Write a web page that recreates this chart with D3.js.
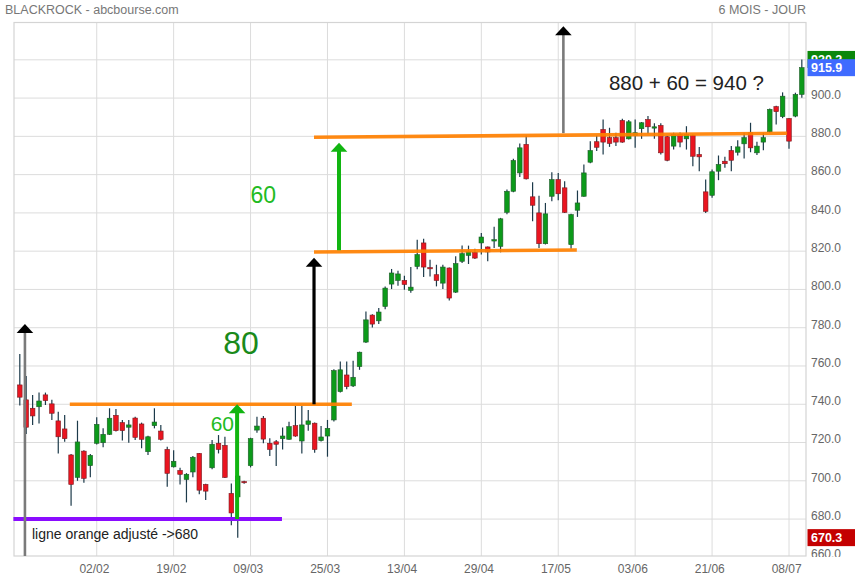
<!DOCTYPE html>
<html><head><meta charset="utf-8">
<script src="https://cdn.jsdelivr.net/npm/d3@7"></script>
<style>
html,body{margin:0;padding:0;background:#fff;}
svg{display:block;font-family:"Liberation Sans",Arial,sans-serif;}
</style></head>
<body><svg id="chart" width="855" height="580"></svg>
<script>
// ---- data (daily candles, index 0 = first session shown) ----
const opens  = [750.1,742.3,737.9,738.7,744.9,740.2,731.3,727.1,713.5,701.8,715.5,707.9,719.6,719.9,724.3,734.2,730.4,728.0,732.8,729.7,715.2,728.8,726.0,716.4,707.3,705.4,700.7,704.6,714.3,698.1,706.8,719.6,718.5,693.4,691.6,699.6,707.9,726.5,732.7,719.6,720.4,722.0,721.7,728.8,720.8,729.5,730.1,721.0,723.4,731.8,746.6,755.3,749.6,759.7,772.5,786.6,783.6,791.1,802.8,804.7,804.7,799.5,812.0,824.3,811.4,807.7,803.3,811.2,798.6,814.7,817.8,819.4,824.3,822.2,825.3,822.5,840.3,851.3,860.9,875.8,848.4,840.0,823.9,848.7,857.4,853.1,823.4,841.4,848.7,866.5,877.2,883.6,879.3,879.3,888.3,878.7,880.5,884.0,888.8,884.3,885.7,879.8,874.9,881.0,878.7,880.5,870.5,851.0,849.2,861.8,867.0,872.6,871.7,876.1,881.9,871.4,877.0,882.4,895.5,890.3,889.3,890.6,901.9];
const highs  = [766.3,754.8,744.9,746.1,746.1,742.3,736.1,734.4,714.0,731.4,716.0,714.0,733.2,727.4,737.9,737.5,731.8,731.8,733.5,730.4,723.5,737.9,729.2,717.8,716.0,706.8,704.0,712.9,714.5,698.5,721.3,723.9,723.0,698.6,706.0,700.0,722.5,733.5,733.9,722.2,721.3,727.8,730.9,739.1,739.1,737.0,730.5,728.6,731.8,758.3,762.3,762.3,762.8,767.5,788.5,787.0,790.3,801.6,810.7,809.8,807.2,811.7,826.0,826.5,815.5,812.9,812.9,811.5,817.3,822.9,822.9,821.2,829.5,822.5,832.7,837.4,852.2,868.3,876.3,880.5,856.0,849.0,845.2,861.3,860.9,856.5,839.5,851.7,865.3,877.5,880.5,888.8,884.5,881.9,889.2,888.5,888.8,887.5,890.6,886.8,886.8,880.3,881.9,882.0,885.3,881.0,874.5,857.4,862.7,870.0,869.3,874.9,878.0,881.9,887.1,877.2,881.9,894.5,896.0,903.0,889.5,902.8,920.2];
const lows   = [739.3,724.5,729.2,730.0,739.6,731.8,714.3,720.4,686.9,700.0,699.0,701.8,719.0,717.5,724.0,725.7,721.0,719.9,721.3,717.0,713.5,727.4,721.0,696.9,707.0,698.1,688.7,701.8,693.0,689.9,706.0,714.3,701.5,676.8,670.3,698.5,707.0,725.1,719.6,712.9,707.7,716.4,721.5,723.0,714.3,726.2,714.7,720.5,712.6,731.0,746.1,747.9,749.0,758.0,772.0,780.1,781.9,789.7,800.2,801.9,799.9,798.3,810.5,806.5,806.8,801.6,800.2,794.2,798.1,813.8,813.3,815.9,818.2,814.7,821.7,819.4,839.3,850.8,858.8,857.5,835.6,821.7,823.5,846.1,846.6,840.0,821.2,837.9,848.5,866.0,872.3,870.5,874.5,874.9,876.6,878.4,874.0,878.7,881.4,878.7,870.5,867.0,873.1,874.3,873.1,864.4,861.8,840.0,847.9,857.1,863.6,861.8,870.0,868.4,871.7,870.2,872.8,881.9,886.2,889.5,873.5,890.0,900.2];
const closes = [743.7,728.0,733.9,741.7,741.9,735.3,723.0,722.0,698.1,720.3,701.3,713.3,729.5,724.3,732.7,726.2,726.2,729.2,722.7,721.7,723.0,730.7,721.7,703.9,710.2,703.4,703.4,712.3,695.1,694.6,719.1,716.4,701.8,683.2,702.5,699.0,722.0,728.6,721.8,716.4,719.1,723.4,728.3,723.4,729.2,731.3,716.4,722.9,727.4,757.6,758.0,749.2,754.1,767.2,784.1,781.9,788.2,800.7,808.6,808.1,802.6,801.2,818.2,811.7,811.0,804.7,811.7,795.5,813.5,818.7,819.9,816.4,827.4,819.6,826.0,836.9,851.3,867.4,874.0,857.8,844.0,823.9,839.5,857.4,850.0,840.3,839.1,845.2,860.9,872.6,874.3,877.0,876.3,877.0,877.0,887.6,881.9,887.1,885.0,885.0,871.4,867.5,881.0,877.0,881.0,869.6,869.3,840.8,861.5,865.3,865.7,867.5,874.5,879.3,874.0,874.9,879.3,894.1,892.9,901.0,877.5,901.9,915.9];

const xTickIndex  = [12,24,36,48,60,72,84,96,108,120];
const xTickLabels = ["02/02","19/02","09/03","25/03","13/04","29/04","17/05","03/06","21/06","08/07"];
const yTickValues = [660,680,700,720,740,760,780,800,820,840,860,880,900,920];

const title = "BLACKROCK - abcbourse.com";
const period = "6 MOIS - JOUR";
const lastHigh = 920.2, lastClose = 915.9, periodLow = 670.3;

// annotations in data space: [index, price]
const orangeLines = [
  [[7.8,740],[51.8,740]],
  [[45.9,819.6],[86.9,820.6]],
  [[45.9,879.5],[119.7,881.6]]
];
const purpleLine = [[-1,680],[40.9,680]];
const arrows = [
  {x:0.8,  from:660.7, to:782.0, kind:"grey"},
  {x:45.9, from:740.0, to:816.6, kind:"black"},
  {x:84.8, from:881.7, to:937.6, kind:"grey"},
  {x:33.9, from:680.0, to:740.0, kind:"green"},
  {x:49.8, from:820.5, to:876.7, kind:"green"}
];
const notes = [
  {x:38.0, p:845.0, text:"60", size:23, color:"#22bb22", anchor:"middle"},
  {x:34.5, p:766.3, text:"80", size:32, color:"#1a8a1a", anchor:"middle"},
  {x:31.6, p:726.0, text:"60", size:21, color:"#22bb22", anchor:"middle"},
  {x:91.9, p:904.2, text:"880 + 60 = 940 ?", size:20.5, color:"#222", anchor:"start"},
  {x:1.9,  p:669.6, text:"ligne orange adjusté ->680", size:14, color:"#222", anchor:"start"}
];

// ---- layout ----
const L = 14, R = 806, T = 22.5, B = 556;
const svg = d3.select("#chart");
const x = d3.scaleLinear().domain([0,120]).range([19.8,789]);
const y = d3.scaleLinear().domain([660.7,939.5]).range([B,T]);
const data = opens.map((o,i)=>({i,o,h:highs[i],l:lows[i],c:closes[i]}));

svg.append("text").attr("x",5).attr("y",14).attr("font-size",12.5).attr("fill","#777").text(title);
svg.append("text").attr("x",806).attr("y",14).attr("font-size",12.5).attr("fill","#777").attr("text-anchor","end").text(period);

// grid
const grid = svg.append("g");
grid.selectAll("line.h").data(yTickValues.filter(v=>y(v)>T && y(v)<B)).join("line")
  .attr("x1",L).attr("x2",R).attr("y1",d=>y(d)).attr("y2",d=>y(d))
  .attr("stroke","#dcdcdc").attr("stroke-width",1);
grid.selectAll("line.v").data(xTickIndex).join("line")
  .attr("x1",d=>x(d)).attr("x2",d=>x(d)).attr("y1",T).attr("y2",B)
  .attr("stroke","#dcdcdc").attr("stroke-width",1);
svg.append("rect").attr("x",L).attr("y",T).attr("width",R-L).attr("height",B-T)
  .attr("fill","none").attr("stroke","#d4d4d4").attr("stroke-width",1.2);

// axes (clip in the group's local coordinates)
svg.append("clipPath").attr("id","axclip").append("rect").attr("x",-10).attr("y",-20).attr("width",70).attr("height",580.5);
const yAxis = d3.axisRight(y).tickValues(yTickValues).tickFormat(d3.format(".1f")).tickSize(0).tickPadding(0);
const ga = svg.append("g").attr("transform","translate(811,-3.5)").attr("clip-path","url(#axclip)").call(yAxis);
ga.select(".domain").remove();
ga.selectAll("text").attr("font-size",12).attr("fill","#666").attr("font-family","Liberation Sans, Arial, sans-serif");

const xAxis = d3.axisBottom(x).tickValues(xTickIndex).tickFormat((d,i)=>xTickLabels[i]).tickSize(0).tickPadding(0);
const gx = svg.append("g").attr("transform","translate(-2.8,"+(B+8)+")").call(xAxis);
gx.select(".domain").remove();
gx.selectAll("text").attr("font-size",12).attr("fill","#666").attr("font-family","Liberation Sans, Arial, sans-serif");

// candles
const bw = 4.6;
const cg = svg.append("g");
cg.selectAll("line.w").data(data).join("line")
  .attr("x1",d=>x(d.i)).attr("x2",d=>x(d.i)).attr("y1",d=>y(d.h)).attr("y2",d=>y(d.l))
  .attr("stroke","#1c3a4a").attr("stroke-width",1.2);
cg.selectAll("rect").data(data).join("rect")
  .attr("x",d=>x(d.i)-bw/2).attr("width",bw)
  .attr("y",d=>y(Math.max(d.o,d.c)))
  .attr("height",d=>Math.max(1.2,Math.abs(y(d.o)-y(d.c))))
  .attr("fill",d=>d.c>=d.o?"#0c9a1a":"#ea1520")
  .attr("stroke",d=>d.c>=d.o?"#1f5a2a":"#7a1a20").attr("stroke-width",0.6);

// annotations
const line = d3.line().x(d=>x(d[0])).y(d=>y(d[1]));
svg.append("path").datum(purpleLine).attr("d",line).attr("stroke","#8a0cff").attr("stroke-width",4).attr("fill","none");
svg.selectAll("path.or").data(orangeLines).join("path").attr("class","or")
  .attr("d",line).attr("stroke","#ff8000").attr("stroke-width",3.6).attr("fill","none").attr("stroke-opacity",0.92);

const style = {grey:{line:"#7a7a7a",head:"#000",w:2.6}, black:{line:"#000",head:"#000",w:3.2}, green:{line:"#11b511",head:"#11b511",w:4}};
const ag = svg.append("g");
arrows.forEach(a=>{
  const s = style[a.kind], cx = x(a.x), yt = y(a.to), hh = 9, hw = 8.3;
  ag.append("line").attr("x1",cx).attr("x2",cx).attr("y1",y(a.from)).attr("y2",yt+hh-1)
    .attr("stroke",s.line).attr("stroke-width",s.w);
  ag.append("path").attr("d",`M${cx},${yt}L${cx+hw},${yt+hh}L${cx-hw},${yt+hh}Z`).attr("fill",s.head);
});

svg.selectAll("text.note").data(notes).join("text").attr("class","note")
  .attr("x",d=>x(d.x)).attr("y",d=>y(d.p)).attr("font-size",d=>d.size)
  .attr("fill",d=>d.color).attr("text-anchor",d=>d.anchor).text(d=>d.text);

// value boxes on right axis (last high / last close / period low)
const boxes = [
  {v:lastHigh, fill:"#0b870b"},
  {v:lastClose, fill:"#3f6bff"},
  {v:periodLow, fill:"#c40000"}
];
const bg = svg.append("g");
boxes.forEach(b=>{
  const cy = y(b.v);
  bg.append("rect").attr("x",807.5).attr("y",cy-8.5).attr("width",48).attr("height",17).attr("fill",b.fill);
  bg.append("text").attr("x",811).attr("y",cy+4.5).attr("font-size",12.5).attr("fill","#fff").attr("font-weight","bold").text(d3.format(".1f")(b.v));
});
</script></body></html>
